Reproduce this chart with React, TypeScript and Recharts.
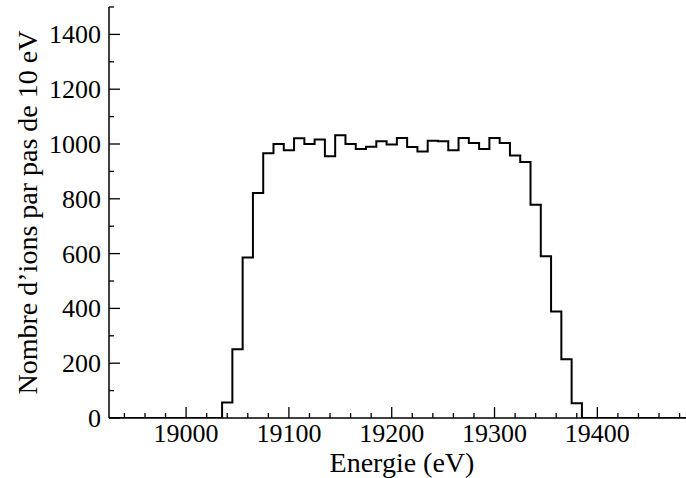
import React from "react";
import { LineChart, Line, XAxis, YAxis } from "recharts";

// centres des pas de 10 eV et nombre d'ions
const binCenters = [
  19040, 19050, 19060, 19070, 19080, 19090, 19100, 19110, 19120, 19130,
  19140, 19150, 19160, 19170, 19180, 19190, 19200, 19210, 19220, 19230,
  19240, 19250, 19260, 19270, 19280, 19290, 19300, 19310, 19320, 19330,
  19340, 19350, 19360, 19370, 19380,
];
const ionCounts = [
  57, 251, 586, 821, 966, 1000, 977, 1021, 1000, 1016,
  955, 1032, 1000, 982, 990, 1010, 998, 1022, 989, 973,
  1012, 1010, 977, 1022, 1004, 982, 1022, 1004, 958, 934,
  778, 590, 389, 214, 54,
];

const xDomain = [18925, 19495];
const xTicks = [
  18940, 18960, 18980, 19000, 19020, 19040, 19060, 19080, 19100, 19120,
  19140, 19160, 19180, 19200, 19220, 19240, 19260, 19280, 19300, 19320,
  19340, 19360, 19380, 19400, 19420, 19440, 19460, 19480,
];
const xLabels = [19000, 19100, 19200, 19300, 19400];
const yDomain = [0, 1500];
const yTicks = [0, 100, 200, 300, 400, 500, 600, 700, 800, 900, 1000, 1100, 1200, 1300, 1400, 1500];
const yLabels = [0, 200, 400, 600, 800, 1000, 1200, 1400];

const BIN = 10;
const SERIF = "Liberation Serif, Times New Roman, DejaVu Serif, serif";
const tickStyle: React.CSSProperties = { fontFamily: SERIF, fontSize: 26 };
const titleStyle: React.CSSProperties = { fontFamily: SERIF, fontSize: 28 };
const MAJOR = 11;
const MINOR = 5;

// points aux bords de chaque pas (stepAfter), avec zéro de part et d'autre
const histData = [
  { e: xDomain[0], n: 0 },
  ...binCenters.map((c, i) => ({ e: c - BIN / 2, n: ionCounts[i] })),
  { e: binCenters[binCenters.length - 1] + BIN / 2, n: 0 },
  { e: xDomain[1], n: 0 },
];

const BottomTick = (props: any) => {
  const { x, y, payload } = props;
  const major = xLabels.includes(payload.value);
  return (
    <g>
      <line x1={x} y1={y} x2={x} y2={y - (major ? MAJOR : MINOR)} stroke="#000" strokeWidth={1.3} />
      {major && (
        <text x={x} y={y + 24} textAnchor="middle" style={tickStyle} fill="#000">
          {payload.value}
        </text>
      )}
    </g>
  );
};

const TopTick = (props: any) => {
  const { x, y, payload } = props;
  const major = xLabels.includes(payload.value);
  return <line x1={x} y1={y} x2={x} y2={y + (major ? MAJOR : MINOR)} stroke="#000" strokeWidth={1.3} />;
};

const LeftTick = (props: any) => {
  const { x, y, payload } = props;
  const major = yLabels.includes(payload.value);
  return (
    <g>
      <line x1={x} y1={y} x2={x + (major ? MAJOR : MINOR)} y2={y} stroke="#000" strokeWidth={1.3} />
      {major && (
        <text x={x - 8} y={y + 9} textAnchor="end" style={tickStyle} fill="#000">
          {payload.value}
        </text>
      )}
    </g>
  );
};

const RightTick = (props: any) => {
  const { x, y, payload } = props;
  const major = yLabels.includes(payload.value);
  return <line x1={x} y1={y} x2={x - (major ? MAJOR : MINOR)} y2={y} stroke="#000" strokeWidth={1.3} />;
};

const XTitle = (props: any) => {
  const vb = props.viewBox;
  return (
    <text x={vb.x + vb.width / 2} y={vb.y + 54} textAnchor="middle" style={titleStyle} fill="#000">
      Energie (eV)
    </text>
  );
};

const YTitle = (props: any) => {
  const vb = props.viewBox;
  const cx = 27;
  const cy = vb.y + vb.height / 2;
  return (
    <text
      x={cx}
      y={cy}
      transform={`rotate(-90 ${cx} ${cy})`}
      textAnchor="middle"
      dominantBaseline="central"
      style={titleStyle}
      fill="#000"
    >
      Nombre d’ions par pas de 10 eV
    </text>
  );
};

export default function App() {
  const axisLine = { stroke: "#000", strokeWidth: 1.5 };
  return (
    <div
      style={{
        position: "absolute",
        left: 0,
        top: 0,
        width: 686,
        height: 478,
        overflow: "hidden",
        background: "#fff",
      }}
    >
      <LineChart width={700} height={478} data={histData} margin={{ top: 7, right: 5, bottom: 0, left: 0 }}>
        <XAxis
          xAxisId="b"
          dataKey="e"
          type="number"
          domain={xDomain}
          allowDataOverflow
          ticks={xTicks}
          interval={0}
          height={60}
          tickSize={0}
          tickMargin={0}
          axisLine={axisLine}
          tick={BottomTick}
          label={XTitle}
        />
        <XAxis
          xAxisId="t"
          orientation="top"
          dataKey="e"
          type="number"
          domain={xDomain}
          allowDataOverflow
          ticks={xTicks}
          interval={0}
          height={0}
          tickSize={0}
          tickMargin={0}
          axisLine={axisLine}
          tick={TopTick}
        />
        <YAxis
          yAxisId="l"
          type="number"
          domain={yDomain}
          allowDataOverflow
          ticks={yTicks}
          interval={0}
          width={109}
          tickSize={0}
          tickMargin={0}
          axisLine={axisLine}
          tick={LeftTick}
          label={YTitle}
        />
        <YAxis
          yAxisId="r"
          orientation="right"
          type="number"
          domain={yDomain}
          allowDataOverflow
          ticks={yTicks}
          interval={0}
          width={0}
          tickSize={0}
          tickMargin={0}
          axisLine={axisLine}
          tick={RightTick}
        />
        <Line
          xAxisId="b"
          yAxisId="l"
          type="stepAfter"
          dataKey="n"
          stroke="#000"
          strokeWidth={2}
          dot={false}
          isAnimationActive={false}
        />
      </LineChart>
    </div>
  );
}
